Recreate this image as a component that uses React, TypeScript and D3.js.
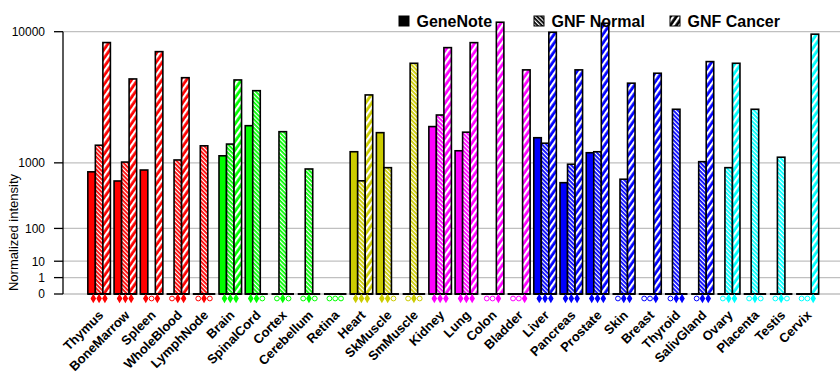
import React from 'react';
import * as d3 from 'd3';

const tissues = [
  'Thymus', 'BoneMarrow', 'Spleen', 'WholeBlood', 'LymphNode', 'Brain', 'SpinalCord',
  'Cortex', 'Cerebellum', 'Retina', 'Heart', 'SkMuscle', 'SmMuscle', 'Kidney', 'Lung',
  'Colon', 'Bladder', 'Liver', 'Pancreas', 'Prostate', 'Skin', 'Breast', 'Thyroid',
  'SalivGland', 'Ovary', 'Placenta', 'Testis', 'Cervix',
];

// colour family of each tissue (index into palette)
const tissueFamily = [0, 0, 0, 0, 0, 1, 1, 1, 1, 1, 2, 2, 2, 3, 3, 3, 3, 4, 4, 4, 4, 4, 4, 4, 5, 5, 5, 5];
const palette = ['#ff0000', '#00ff00', '#cccc00', '#ff00ff', '#0000ff', '#00ffff'];

const geneNote = [790, 610, 830, 0, 0, 1190, 2290, 0, 0, 0, 1310, 1990, 0, 2250, 1340, 0, 0, 1790, 580, 1280, 0, 0, 0, 0, 0, 0, 0, 0];
const gnfNormal = [1520, 1020, 0, 1075, 1500, 1560, 4290, 2030, 853, 0, 613, 883, 6530, 2810, 2010, 0, 0, 1590, 965, 1310, 642, 0, 3120, 1030, 883, 3120, 1150, 0];
const gnfCancer = [8690, 5170, 7690, 5270, 0, 5090, 0, 0, 0, 0, 4000, 0, 0, 8120, 8680, 11250, 5930, 9930, 5930, 11110, 4840, 5640, 0, 6690, 6530, 0, 0, 9690];

// present calls (GeneNote, GNF Normal, GNF Cancer)
const calls = [
  '111', '111', '101', '011', '010', '111', '110', '010', '010', '000', '111', '110', '010', '111',
  '111', '001', '001', '111', '111', '111', '011', '001', '011', '011', '011', '010', '010', '001',
];

const seriesNames = ['GeneNote', 'GNF Normal', 'GNF Cancer'];
const yTicks = [0, 1, 10, 100, 1000, 10000];

const W = 840;
const H = 385;
const axisX = 63;
const baseY = 294;
const font = '"Liberation Sans", Arial, sans-serif';

const Patterns: React.FC<{ id: string; color: string }> = ({ id, color }) => (
  <>
    <pattern id={`norm-${id}`} patternUnits="userSpaceOnUse" width={3} height={10} patternTransform="rotate(-45)">
      <rect width={3} height={10} fill={color} />
      <rect width={1.2} height={10} fill="#fff" />
    </pattern>
    <pattern id={`canc-${id}`} patternUnits="userSpaceOnUse" width={5} height={10} patternTransform="rotate(35)">
      <rect width={5} height={10} fill={color} />
      <rect width={2.2} height={10} fill="#fff" />
    </pattern>
  </>
);

export default function App() {
  const y = d3.scalePow().exponent(Math.log10(2)).domain([0, 10000]).range([baseY, 31.7]);
  const x = d3.scaleBand<string>().domain(tissues).range([86, 820.5]).paddingInner(0.14).paddingOuter(0.07);
  const inner = d3.scaleBand<number>().domain([0, 1, 2]).range([0, x.bandwidth()]);
  const series = [geneNote, gnfNormal, gnfCancer];
  const diamond = d3.symbol(d3.symbolDiamond, 26)() as string;

  const fillFor = (k: number, id: string, color: string) =>
    k === 0 ? color : k === 1 ? `url(#norm-${id})` : `url(#canc-${id})`;

  const legendX = [399, 534, 670];

  return (
    <svg width={W} height={H} style={{ position: 'absolute', left: 0, top: 0, background: '#fff' }}>
      <defs>
        {palette.map((c, i) => <Patterns key={i} id={String(i)} color={c} />)}
        <Patterns id="k" color="#000" />
      </defs>

      {/* grid */}
      {yTicks.map(t => (
        <g key={t}>
          <line x1={axisX} x2={W} y1={y(t)} y2={y(t)} stroke="#c0c0c0" strokeWidth={1.3} />
          <line x1={54} x2={axisX} y1={y(t)} y2={y(t)} stroke="#000" strokeWidth={1.3} />
          <text x={45} y={y(t) + 4.3} textAnchor="end" fontFamily={font} fontSize={12}>{t}</text>
        </g>
      ))}
      <line x1={axisX} x2={axisX} y1={y(10000)} y2={baseY} stroke="#000" strokeWidth={1.3} />
      <text transform={`translate(17.5,232.5) rotate(-90)`} textAnchor="middle" fontFamily={font} fontSize={13}>
        Normalized intensity
      </text>

      {/* bars */}
      {tissues.map((t, i) => {
        const color = palette[tissueFamily[i]];
        const id = String(tissueFamily[i]);
        const x0 = x(t) as number;
        const cx = x0 + x.bandwidth() / 2;
        return (
          <g key={t}>
            {series.map((s, k) =>
              s[i] > 0 ? (
                <rect
                  key={k}
                  x={x0 + (inner(k) as number)}
                  y={y(s[i])}
                  width={inner.bandwidth()}
                  height={baseY - y(s[i])}
                  fill={fillFor(k, id, color)}
                  stroke="#000"
                  strokeWidth={1.6}
                />
              ) : null
            )}
            <line x1={x0} x2={x0 + x.bandwidth()} y1={baseY} y2={baseY} stroke="#000" strokeWidth={2} />
            {[0, 1, 2].map(k =>
              calls[i][k] === '1' ? (
                <g key={k} transform={`translate(${cx + (k - 1) * 5.8},298.5)`}>
                  <path d={diamond} fill={color} />
                  <circle r={2.1} fill={color} />
                </g>
              ) : (
                <circle key={k} cx={cx + (k - 1) * 5.8} cy={298.5} r={2.4} fill="#fff" stroke={color} strokeWidth={1} />
              )
            )}
            <text
              transform={`translate(${cx + 5},316) rotate(-45)`}
              textAnchor="end"
              fontFamily={font}
              fontSize={13}
              fontWeight="bold"
            >
              {t}
            </text>
          </g>
        );
      })}

      {/* legend */}
      {seriesNames.map((n, k) => (
        <g key={n}>
          <rect
            x={legendX[k]}
            y={16}
            width={10}
            height={10}
            fill={fillFor(k, 'k', '#000')}
            stroke="#000"
            strokeWidth={1}
          />
          <text x={legendX[k] + 17.5} y={26.7} fontFamily={font} fontSize={16} fontWeight="bold">{n}</text>
        </g>
      ))}
    </svg>
  );
}
